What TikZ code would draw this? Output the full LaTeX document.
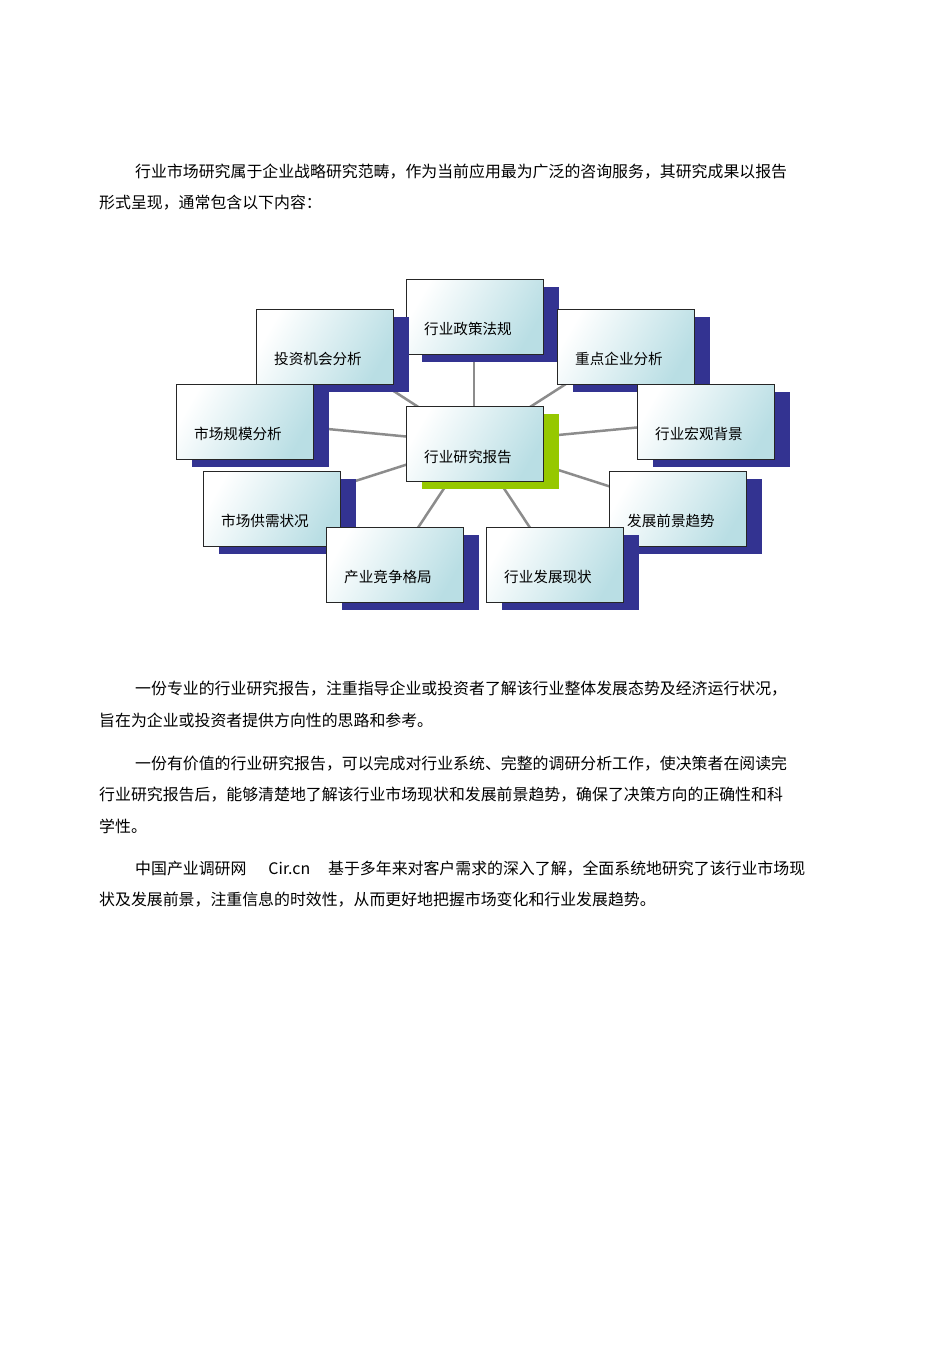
\documentclass[tikz,border=0pt]{standalone}
\usepackage{fontspec}
\setmainfont{Noto Sans CJK SC}
\begin{document}
\begin{tikzpicture}[x=1pt,y=-1pt,
  bx/.style={draw=black!85,line width=1pt,left color=white,right color={rgb,255:red,185;green,222;blue,228},shading angle=60},
  lbl/.style={anchor=west,font=\fontsize{14.6}{16}\selectfont,inner sep=0},
  para/.style={anchor=west,font=\fontsize{15.9}{18}\selectfont,inner sep=0},
  conn/.style={draw=black!45,line width=2.5pt}]
\useasboundingbox (0,0) rectangle (950,1346);
\fill[white] (0,0) rectangle (950,1346);
\node[para] (p1) at (135,172) {行业市场研究属于企业战略研究范畴，作为当前应用最为广泛的咨询服务，其研究成果以报告};
\node[para] (p2) at (99,203) {形式呈现，通常包含以下内容：};
% connectors
\coordinate (c) at (474,443);
\foreach \n/\x/\y in {a/406/279,b/256/309,d/557/309,e/176/384,f/637/384,g/203/471,h/609/471,i/326/527,j/486/527}{
  \coordinate (\n) at (\x+68,\y+37);
  \draw[conn] (c) -- (\n);
}
\foreach \n/\x/\y/\t in {a/406/279/行业政策法规,b/256/309/投资机会分析,d/557/309/重点企业分析,e/176/384/市场规模分析,f/637/384/行业宏观背景,g/203/471/市场供需状况,h/609/471/发展前景趋势,i/326/527/产业竞争格局,j/486/527/行业发展现状}{
  \fill[fill={rgb,255:red,51;green,51;blue,145}] (\x+16,\y+8) rectangle (\x+153,\y+83);
  \path[bx] (\x,\y) rectangle (\x+137,\y+75);
  \node[lbl] (t\n) at (\x+18,\y+50) {\t};
}
\fill[fill={rgb,255:red,150;green,200;blue,0}] (422,414) rectangle (559,489);
\path[bx] (406,406) rectangle (543,481);
\node[lbl] (tc) at (424,457) {行业研究报告};
\node[para] (q1) at (135,689) {一份专业的行业研究报告，注重指导企业或投资者了解该行业整体发展态势及经济运行状况，};
\node[para] (q2) at (99,720) {旨在为企业或投资者提供方向性的思路和参考。};
\node[para] (r1) at (135,764) {一份有价值的行业研究报告，可以完成对行业系统、完整的调研分析工作，使决策者在阅读完};
\node[para] (r2) at (99,795) {行业研究报告后，能够清楚地了解该行业市场现状和发展前景趋势，确保了决策方向的正确性和科};
\node[para] (r3) at (99,826) {学性。};
\node[para] (s1) at (135,869) {中国产业调研网\hspace{22pt}Cir.cn\hspace{18pt}基于多年来对客户需求的深入了解，全面系统地研究了该行业市场现};
\node[para] (s2) at (99,900) {状及发展前景，注重信息的时效性，从而更好地把握市场变化和行业发展趋势。};
\end{tikzpicture}
\end{document}
